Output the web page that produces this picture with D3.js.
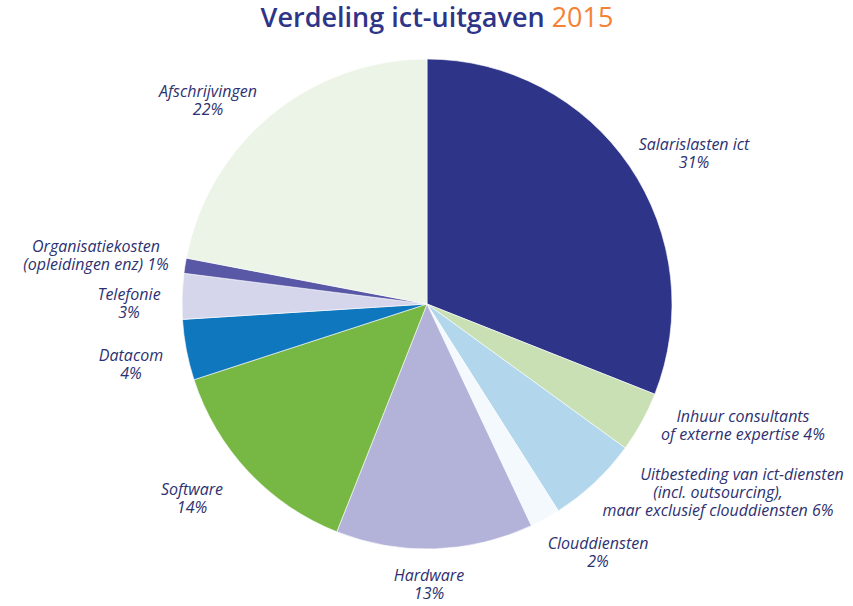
<!DOCTYPE html>
<html>
<head>
<meta charset="utf-8">
<script src="https://cdn.jsdelivr.net/npm/d3@7"></script>
<style>
  body { margin: 0; background: #fff; }
  svg { display: block; font-family: "Open Sans", sans-serif; }
  .lbl { font-style: italic; font-size: 16px; fill: #2d3170; }
</style>
</head>
<body>
<svg id="chart" width="853" height="606"></svg>
<script>
// data (clockwise from 12 o'clock)
var categories = ["Salarislasten ict", "Inhuur consultants", "Uitbesteding van ict-diensten",
  "Clouddiensten", "Hardware", "Software", "Datacom", "Telefonie", "Organisatiekosten", "Afschrijvingen"];
var shares = [31, 4, 6, 2, 13, 14, 4, 3, 1, 22];
var labelLines = [
  ["Salarislasten ict", "31%"],
  ["Inhuur consultants", "of externe expertise 4%"],
  ["Uitbesteding van ict-diensten", "(incl. outsourcing),", "maar exclusief clouddiensten 6%"],
  ["Clouddiensten", "2%"],
  ["Hardware", "13%"],
  ["Software", "14%"],
  ["Datacom", "4%"],
  ["Telefonie", "3%"],
  ["Organisatiekosten", "(opleidingen enz) 1%"],
  ["Afschrijvingen", "22%"]
];
var colors = ["#2e3589", "#c8e0b4", "#b2d6ec", "#f3f9fd", "#b3b3d9", "#77b744", "#0e77bd", "#d5d6eb", "#5858a6", "#ebf4e7"];

// label layout: centre x and first baseline, plus per-line x shifts
var labelPos = [[694, 150], [743, 422], [742, 480], [598, 549], [429, 581], [192, 495], [131, 361], [129, 300], [96, 252], [208, 97]];
var lineShift = [[], [0, 0], [0, -24, -24], [], [], [], [], [], [], []];

var svg = d3.select("#chart"),
    cx = 427, cy = 304, radius = 245;

var title = svg.append("text")
    .attr("x", 437)
    .attr("y", 27)
    .attr("text-anchor", "middle")
    .style("font-size", "27px");
title.append("tspan").attr("font-weight", 600).attr("fill", "#2e3589").text("Verdeling ict-uitgaven ");
title.append("tspan").attr("font-weight", 400).attr("fill", "#f58233").text("2015");

var pie = d3.pie().sort(null).value(function(d) { return d; });
var arc = d3.arc().innerRadius(0).outerRadius(radius);

var g = svg.append("g").attr("transform", "translate(" + cx + "," + cy + ")");

g.selectAll(".slice")
    .data(pie(shares))
  .enter().append("path")
    .attr("class", "slice")
    .attr("d", arc)
    .attr("fill", function(d, i) { return colors[i]; })
    .attr("stroke", "#fff")
    .attr("stroke-width", 0.6);

var labels = svg.selectAll(".lbl")
    .data(labelLines)
  .enter().append("text")
    .attr("class", "lbl")
    .attr("text-anchor", "middle")
    .attr("x", function(d, i) { return labelPos[i][0]; })
    .attr("y", function(d, i) { return labelPos[i][1]; });

labels.each(function(lines, i) {
  var t = d3.select(this);
  lines.forEach(function(line, j) {
    t.append("tspan")
      .attr("x", labelPos[i][0] + (lineShift[i][j] || 0))
      .attr("y", labelPos[i][1] + j * 18)
      .text(line);
  });
});
</script>
</body>
</html>
